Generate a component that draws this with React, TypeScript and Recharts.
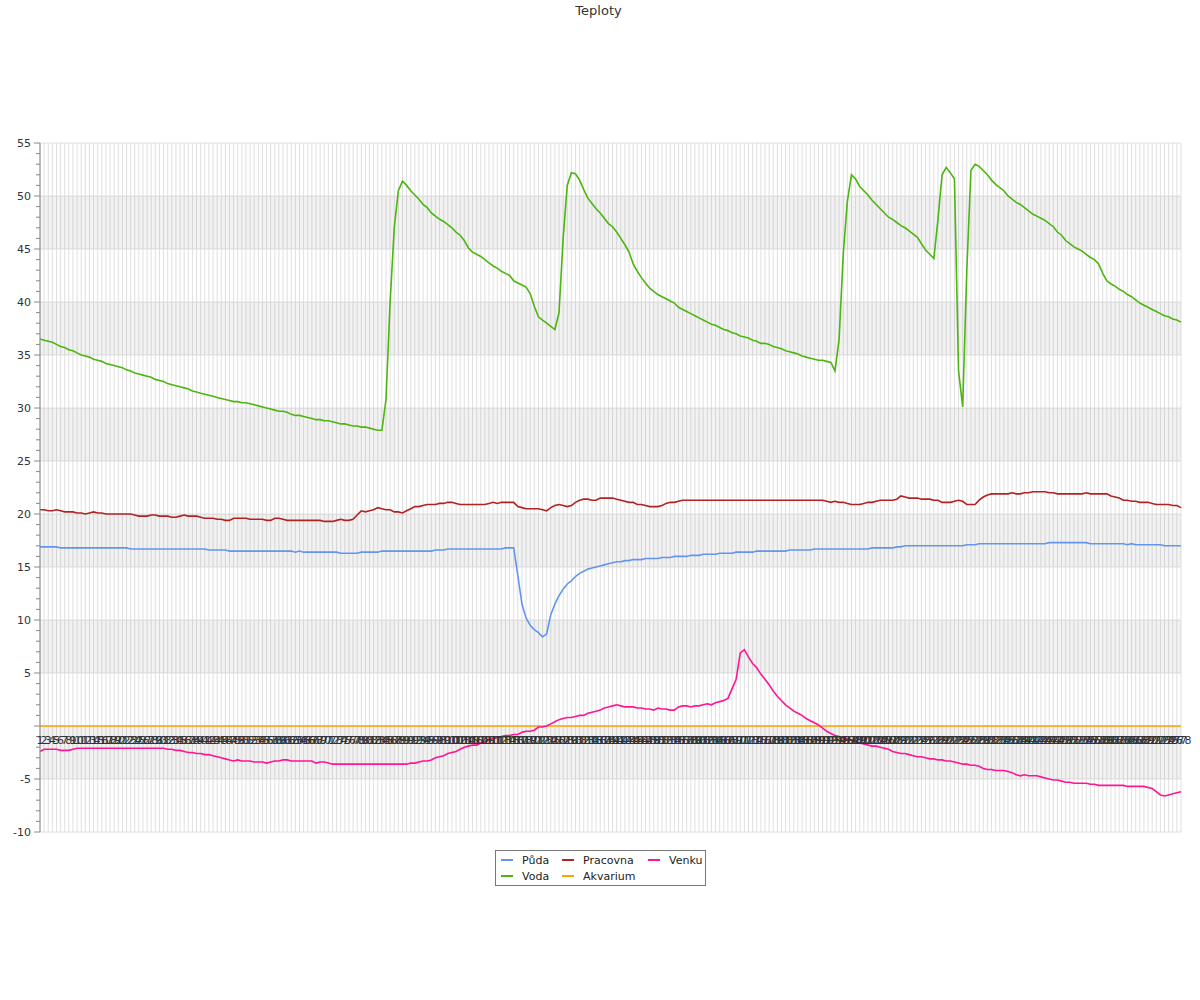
import React from "react";
import {
  LineChart,
  Line,
  XAxis,
  YAxis,
  CartesianGrid,
  ReferenceArea,
  LabelList,
} from "recharts";

// 278 readings, labelled 1..278
const categories = Array.from({ length: 278 }, (_, i) => String(i + 1));

const puda = [
  16.9, 16.9, 16.9, 16.9, 16.9, 16.8, 16.8, 16.8, 16.8, 16.8,
  16.8, 16.8, 16.8, 16.8, 16.8, 16.8, 16.8, 16.8, 16.8, 16.8,
  16.8, 16.8, 16.7, 16.7, 16.7, 16.7, 16.7, 16.7, 16.7, 16.7,
  16.7, 16.7, 16.7, 16.7, 16.7, 16.7, 16.7, 16.7, 16.7, 16.7,
  16.7, 16.6, 16.6, 16.6, 16.6, 16.6, 16.5, 16.5, 16.5, 16.5,
  16.5, 16.5, 16.5, 16.5, 16.5, 16.5, 16.5, 16.5, 16.5, 16.5,
  16.5, 16.5, 16.4, 16.5, 16.4, 16.4, 16.4, 16.4, 16.4, 16.4,
  16.4, 16.4, 16.4, 16.3, 16.3, 16.3, 16.3, 16.3, 16.4, 16.4,
  16.4, 16.4, 16.4, 16.5, 16.5, 16.5, 16.5, 16.5, 16.5, 16.5,
  16.5, 16.5, 16.5, 16.5, 16.5, 16.5, 16.6, 16.6, 16.6, 16.7,
  16.7, 16.7, 16.7, 16.7, 16.7, 16.7, 16.7, 16.7, 16.7, 16.7,
  16.7, 16.7, 16.7, 16.8, 16.8, 16.8, 14.2, 11.5, 10.2, 9.5,
  9.1, 8.8, 8.4, 8.7, 10.5, 11.5, 12.3, 12.9, 13.4, 13.7,
  14.1, 14.4, 14.6, 14.8, 14.9, 15.0, 15.1, 15.2, 15.3, 15.4,
  15.5, 15.5, 15.6, 15.6, 15.7, 15.7, 15.7, 15.8, 15.8, 15.8,
  15.8, 15.9, 15.9, 15.9, 16.0, 16.0, 16.0, 16.0, 16.1, 16.1,
  16.1, 16.2, 16.2, 16.2, 16.2, 16.3, 16.3, 16.3, 16.3, 16.4,
  16.4, 16.4, 16.4, 16.4, 16.5, 16.5, 16.5, 16.5, 16.5, 16.5,
  16.5, 16.5, 16.6, 16.6, 16.6, 16.6, 16.6, 16.6, 16.7, 16.7,
  16.7, 16.7, 16.7, 16.7, 16.7, 16.7, 16.7, 16.7, 16.7, 16.7,
  16.7, 16.7, 16.8, 16.8, 16.8, 16.8, 16.8, 16.8, 16.9, 16.9,
  17.0, 17.0, 17.0, 17.0, 17.0, 17.0, 17.0, 17.0, 17.0, 17.0,
  17.0, 17.0, 17.0, 17.0, 17.0, 17.1, 17.1, 17.1, 17.2, 17.2,
  17.2, 17.2, 17.2, 17.2, 17.2, 17.2, 17.2, 17.2, 17.2, 17.2,
  17.2, 17.2, 17.2, 17.2, 17.2, 17.3, 17.3, 17.3, 17.3, 17.3,
  17.3, 17.3, 17.3, 17.3, 17.3, 17.2, 17.2, 17.2, 17.2, 17.2,
  17.2, 17.2, 17.2, 17.2, 17.1, 17.2, 17.1, 17.1, 17.1, 17.1,
  17.1, 17.1, 17.1, 17.0, 17.0, 17.0, 17.0, 17.0,
];

const voda = [
  36.5, 36.4, 36.3, 36.2, 36.0, 35.8, 35.7, 35.5, 35.4, 35.2,
  35.0, 34.9, 34.8, 34.6, 34.5, 34.4, 34.2, 34.1, 34.0, 33.9,
  33.8, 33.6, 33.5, 33.3, 33.2, 33.1, 33.0, 32.9, 32.7, 32.6,
  32.5, 32.3, 32.2, 32.1, 32.0, 31.9, 31.8, 31.6, 31.5, 31.4,
  31.3, 31.2, 31.1, 31.0, 30.9, 30.8, 30.7, 30.6, 30.6, 30.5,
  30.5, 30.4, 30.3, 30.2, 30.1, 30.0, 29.9, 29.8, 29.7, 29.7,
  29.6, 29.4, 29.3, 29.3, 29.2, 29.1, 29.0, 28.9, 28.9, 28.8,
  28.8, 28.7, 28.6, 28.5, 28.5, 28.4, 28.3, 28.3, 28.2, 28.2,
  28.1, 28.0, 27.9, 27.9, 30.8, 40.0, 47.0, 50.5, 51.4, 51.0,
  50.5, 50.1, 49.7, 49.2, 48.9, 48.4, 48.1, 47.8, 47.6, 47.3,
  47.0, 46.6, 46.3, 45.8, 45.1, 44.7, 44.5, 44.3, 44.0, 43.7,
  43.4, 43.2, 42.9, 42.7, 42.5, 42.0, 41.8, 41.6, 41.4, 40.8,
  39.6, 38.6, 38.3, 38.0, 37.7, 37.4, 39.0, 46.0, 51.0, 52.2,
  52.1, 51.5, 50.6, 49.8, 49.3, 48.8, 48.4, 47.9, 47.4, 47.1,
  46.6, 46.0, 45.4, 44.7, 43.6, 42.9, 42.3, 41.8, 41.3, 41.0,
  40.7, 40.5, 40.3, 40.1, 39.9, 39.5, 39.3, 39.1, 38.9, 38.7,
  38.5, 38.3, 38.1, 37.9, 37.8, 37.6, 37.4, 37.3, 37.1, 37.0,
  36.8, 36.7, 36.6, 36.4, 36.3, 36.1, 36.1, 36.0, 35.8, 35.7,
  35.6, 35.4, 35.3, 35.2, 35.1, 34.9, 34.8, 34.7, 34.6, 34.5,
  34.5, 34.4, 34.3, 33.5, 36.5, 44.5, 49.5, 52.0, 51.6, 50.9,
  50.5, 50.1, 49.6, 49.2, 48.8, 48.4, 48.0, 47.8, 47.5, 47.2,
  47.0, 46.7, 46.4, 46.1, 45.5, 44.9, 44.5, 44.1, 47.8, 52.0,
  52.7, 52.2, 51.6, 33.5, 30.1, 43.0, 52.4, 53.0, 52.8, 52.4,
  52.0, 51.5, 51.1, 50.8, 50.5, 50.0, 49.7, 49.4, 49.2, 48.9,
  48.6, 48.3, 48.1, 47.9, 47.7, 47.4, 47.1, 46.6, 46.3, 45.8,
  45.5, 45.2, 45.0, 44.8, 44.5, 44.2, 44.0, 43.6, 42.7, 42.0,
  41.7, 41.5, 41.2, 41.0, 40.7, 40.5, 40.2, 39.9, 39.7, 39.5,
  39.3, 39.1, 38.9, 38.7, 38.6, 38.4, 38.3, 38.1,
];

const pracovna = [
  20.4, 20.4, 20.3, 20.3, 20.4, 20.3, 20.2, 20.2, 20.2, 20.1,
  20.1, 20.0, 20.1, 20.2, 20.1, 20.1, 20.0, 20.0, 20.0, 20.0,
  20.0, 20.0, 20.0, 19.9, 19.8, 19.8, 19.8, 19.9, 19.9, 19.8,
  19.8, 19.8, 19.7, 19.7, 19.8, 19.9, 19.8, 19.8, 19.8, 19.7,
  19.6, 19.6, 19.6, 19.5, 19.5, 19.4, 19.4, 19.6, 19.6, 19.6,
  19.6, 19.5, 19.5, 19.5, 19.5, 19.4, 19.4, 19.6, 19.6, 19.5,
  19.4, 19.4, 19.4, 19.4, 19.4, 19.4, 19.4, 19.4, 19.4, 19.3,
  19.3, 19.3, 19.4, 19.5, 19.4, 19.4, 19.5, 19.9, 20.3, 20.2,
  20.3, 20.4, 20.6, 20.5, 20.4, 20.4, 20.2, 20.2, 20.1, 20.3,
  20.5, 20.7, 20.7, 20.8, 20.9, 20.9, 20.9, 21.0, 21.0, 21.1,
  21.1, 21.0, 20.9, 20.9, 20.9, 20.9, 20.9, 20.9, 20.9, 21.0,
  21.1, 21.0, 21.1, 21.1, 21.1, 21.1, 20.7, 20.6, 20.5, 20.5,
  20.5, 20.5, 20.4, 20.3, 20.6, 20.8, 20.9, 20.8, 20.7, 20.8,
  21.1, 21.3, 21.4, 21.4, 21.3, 21.3, 21.5, 21.5, 21.5, 21.5,
  21.4, 21.3, 21.2, 21.1, 21.1, 20.9, 20.9, 20.8, 20.7, 20.7,
  20.7, 20.8, 21.0, 21.1, 21.1, 21.2, 21.3, 21.3, 21.3, 21.3,
  21.3, 21.3, 21.3, 21.3, 21.3, 21.3, 21.3, 21.3, 21.3, 21.3,
  21.3, 21.3, 21.3, 21.3, 21.3, 21.3, 21.3, 21.3, 21.3, 21.3,
  21.3, 21.3, 21.3, 21.3, 21.3, 21.3, 21.3, 21.3, 21.3, 21.3,
  21.3, 21.2, 21.1, 21.2, 21.1, 21.1, 21.0, 20.9, 20.9, 20.9,
  21.0, 21.1, 21.1, 21.2, 21.3, 21.3, 21.3, 21.3, 21.4, 21.7,
  21.6, 21.5, 21.5, 21.5, 21.4, 21.4, 21.4, 21.3, 21.3, 21.1,
  21.1, 21.1, 21.2, 21.3, 21.2, 20.9, 20.9, 20.9, 21.3, 21.6,
  21.8, 21.9, 21.9, 21.9, 21.9, 21.9, 22.0, 21.9, 21.9, 22.0,
  22.0, 22.1, 22.1, 22.1, 22.1, 22.0, 22.0, 21.9, 21.9, 21.9,
  21.9, 21.9, 21.9, 21.9, 22.0, 21.9, 21.9, 21.9, 21.9, 21.9,
  21.7, 21.6, 21.5, 21.3, 21.3, 21.2, 21.2, 21.1, 21.1, 21.1,
  21.0, 20.9, 20.9, 20.9, 20.9, 20.8, 20.8, 20.6,
];

const akvarium = [
  0, 0, 0, 0, 0, 0, 0, 0, 0, 0, 0, 0, 0, 0, 0, 0, 0, 0, 0, 0,
  0, 0, 0, 0, 0, 0, 0, 0, 0, 0, 0, 0, 0, 0, 0, 0, 0, 0, 0, 0,
  0, 0, 0, 0, 0, 0, 0, 0, 0, 0, 0, 0, 0, 0, 0, 0, 0, 0, 0, 0,
  0, 0, 0, 0, 0, 0, 0, 0, 0, 0, 0, 0, 0, 0, 0, 0, 0, 0, 0, 0,
  0, 0, 0, 0, 0, 0, 0, 0, 0, 0, 0, 0, 0, 0, 0, 0, 0, 0, 0, 0,
  0, 0, 0, 0, 0, 0, 0, 0, 0, 0, 0, 0, 0, 0, 0, 0, 0, 0, 0, 0,
  0, 0, 0, 0, 0, 0, 0, 0, 0, 0, 0, 0, 0, 0, 0, 0, 0, 0, 0, 0,
  0, 0, 0, 0, 0, 0, 0, 0, 0, 0, 0, 0, 0, 0, 0, 0, 0, 0, 0, 0,
  0, 0, 0, 0, 0, 0, 0, 0, 0, 0, 0, 0, 0, 0, 0, 0, 0, 0, 0, 0,
  0, 0, 0, 0, 0, 0, 0, 0, 0, 0, 0, 0, 0, 0, 0, 0, 0, 0, 0, 0,
  0, 0, 0, 0, 0, 0, 0, 0, 0, 0, 0, 0, 0, 0, 0, 0, 0, 0, 0, 0,
  0, 0, 0, 0, 0, 0, 0, 0, 0, 0, 0, 0, 0, 0, 0, 0, 0, 0, 0, 0,
  0, 0, 0, 0, 0, 0, 0, 0, 0, 0, 0, 0, 0, 0, 0, 0, 0, 0, 0, 0,
  0, 0, 0, 0, 0, 0, 0, 0, 0, 0, 0, 0, 0, 0, 0, 0, 0, 0,
];

const venku = [
  -2.4, -2.2, -2.2, -2.2, -2.2, -2.3, -2.3, -2.3, -2.2, -2.1,
  -2.1, -2.1, -2.1, -2.1, -2.1, -2.1, -2.1, -2.1, -2.1, -2.1,
  -2.1, -2.1, -2.1, -2.1, -2.1, -2.1, -2.1, -2.1, -2.1, -2.1,
  -2.1, -2.2, -2.2, -2.3, -2.3, -2.4, -2.5, -2.5, -2.6, -2.6,
  -2.7, -2.7, -2.8, -2.9, -3.0, -3.1, -3.2, -3.3, -3.2, -3.3,
  -3.3, -3.3, -3.4, -3.4, -3.4, -3.5, -3.4, -3.3, -3.3, -3.2,
  -3.2, -3.3, -3.3, -3.3, -3.3, -3.3, -3.3, -3.5, -3.4, -3.4,
  -3.5, -3.6, -3.6, -3.6, -3.6, -3.6, -3.6, -3.6, -3.6, -3.6,
  -3.6, -3.6, -3.6, -3.6, -3.6, -3.6, -3.6, -3.6, -3.6, -3.6,
  -3.5, -3.5, -3.4, -3.3, -3.3, -3.2, -3.0, -2.9, -2.8, -2.6,
  -2.5, -2.4, -2.2, -2.0, -1.9, -1.8, -1.8, -1.6, -1.5, -1.3,
  -1.2, -1.1, -1.0, -0.9, -0.9, -0.8, -0.8, -0.6, -0.5, -0.5,
  -0.4, -0.1, -0.1, 0.0, 0.2, 0.4, 0.6, 0.7, 0.8, 0.8,
  0.9, 1.0, 1.0, 1.2, 1.3, 1.4, 1.5, 1.7, 1.8, 1.9,
  2.0, 1.9, 1.8, 1.8, 1.8, 1.7, 1.7, 1.6, 1.6, 1.5,
  1.7, 1.6, 1.6, 1.5, 1.5, 1.8, 1.9, 1.9, 1.8, 1.9,
  1.9, 2.0, 2.1, 2.0, 2.2, 2.3, 2.4, 2.6, 3.5, 4.4,
  6.9, 7.2, 6.5, 5.9, 5.5, 4.9, 4.4, 3.9, 3.3, 2.8,
  2.4, 2.0, 1.7, 1.4, 1.2, 1.0, 0.7, 0.5, 0.3, 0.1,
  -0.2, -0.5, -0.7, -0.9, -1.0, -1.1, -1.2, -1.3, -1.5, -1.6,
  -1.7, -1.8, -1.9, -1.9, -2.0, -2.1, -2.2, -2.4, -2.5, -2.6,
  -2.6, -2.7, -2.8, -2.9, -2.9, -3.0, -3.1, -3.1, -3.2, -3.2,
  -3.3, -3.3, -3.4, -3.5, -3.6, -3.6, -3.7, -3.7, -3.8, -4.0,
  -4.1, -4.1, -4.2, -4.2, -4.2, -4.3, -4.4, -4.6, -4.7, -4.6,
  -4.7, -4.7, -4.7, -4.8, -4.9, -5.0, -5.1, -5.1, -5.2, -5.3,
  -5.3, -5.4, -5.4, -5.4, -5.4, -5.5, -5.5, -5.6, -5.6, -5.6,
  -5.6, -5.6, -5.6, -5.6, -5.7, -5.7, -5.7, -5.7, -5.7, -5.8,
  -5.9, -6.2, -6.5, -6.6, -6.5, -6.4, -6.3, -6.2,
];

// y axis: every degree gets a small tick, every fifth a label
const yTicks = [
  -10, -9, -8, -7, -6, -5, -4, -3, -2, -1, 0, 1, 2, 3, 4, 5, 6, 7, 8, 9, 10,
  11, 12, 13, 14, 15, 16, 17, 18, 19, 20, 21, 22, 23, 24, 25, 26, 27, 28, 29,
  30, 31, 32, 33, 34, 35, 36, 37, 38, 39, 40, 41, 42, 43, 44, 45, 46, 47, 48,
  49, 50, 51, 52, 53, 54, 55,
];
const gridValues = [-10, -5, 0, 5, 10, 15, 20, 25, 30, 35, 40, 45, 50, 55];
const bands = [
  [-5, 0],
  [5, 10],
  [15, 20],
  [25, 30],
  [35, 40],
  [45, 50],
];

const series = [
  { key: "puda", name: "Půda", color: "#6495ed" },
  { key: "voda", name: "Voda", color: "#4cb50f" },
  { key: "pracovna", name: "Pracovna", color: "#b22222" },
  { key: "akvarium", name: "Akvarium", color: "#ffa500" },
  { key: "venku", name: "Venku", color: "#ff1493" },
];

const data = categories.map((name, i) => ({
  name,
  puda: puda[i],
  voda: voda[i],
  pracovna: pracovna[i],
  akvarium: akvarium[i],
  venku: venku[i],
}));

const FONT = "'DejaVu Sans', sans-serif";

const YTick = (props: any) => {
  const { x, y, payload } = props;
  const v = payload.value;
  const major = v % 5 === 0;
  return (
    <g>
      <line x1={major ? x - 6 : x - 4} x2={x} y1={y} y2={y} stroke="#888" />
      {major && v !== 0 && (
        <text x={x - 9} y={y} dy={4} textAnchor="end" fontSize={11} fill="#333" fontFamily={FONT}>
          {v}
        </text>
      )}
    </g>
  );
};

const XLabel = (props: any) => {
  const { x, y, value } = props;
  return (
    <text x={x} y={y + 18} textAnchor="middle" fontSize={11} fill="#333" fontFamily={FONT}>
      {value}
    </text>
  );
};

const legendCols = [5, 66, 152];

export default function App() {
  return (
    <div style={{ position: "absolute", left: 0, top: 0, width: 1200, height: 1000, background: "#fff", fontFamily: FONT }}>
      <div style={{ position: "absolute", top: 3, left: 0, width: 1197, textAlign: "center", fontSize: 13, color: "#333" }}>
        Teploty
      </div>
      <LineChart width={1200} height={1000} data={data} margin={{ top: 143, right: 19, bottom: 168, left: 0 }}>
        {bands.map(([a, b]) => (
          <ReferenceArea key={a} y1={a} y2={b} fill="#000" fillOpacity={0.05} stroke="none" ifOverflow="hidden" />
        ))}
        <CartesianGrid stroke="#e0e0e0" horizontalValues={gridValues} verticalValues={categories} />
        <XAxis dataKey="name" hide interval={0} />
        <YAxis
          width={40}
          domain={[-10, 55]}
          ticks={yTicks}
          interval={0}
          type="number"
          allowDataOverflow
          tickLine={false}
          tickSize={0}
          tickMargin={0}
          axisLine={{ stroke: "#888" }}
          tick={<YTick />}
        />
        {series.map((s) => (
          <Line
            key={s.key}
            dataKey={s.key}
            name={s.name}
            stroke={s.color}
            strokeWidth={1.6}
            dot={false}
            type="linear"
            isAnimationActive={false}
          >
            {s.key === "akvarium" && <LabelList dataKey="name" content={<XLabel />} />}
          </Line>
        ))}
      </LineChart>
      <div
        style={{
          position: "absolute",
          left: 495,
          top: 850,
          width: 209,
          height: 34,
          border: "1px solid #777",
          background: "#fff",
          fontSize: 11,
          color: "#222",
        }}
      >
        {series.map((s, i) => (
          <div
            key={s.key}
            style={{
              position: "absolute",
              left: legendCols[Math.floor(i / 2)],
              top: (i % 2) * 16 + 2,
              height: 14,
              display: "flex",
              alignItems: "center",
              whiteSpace: "nowrap",
            }}
          >
            <span style={{ display: "inline-block", width: 12, height: 2, background: s.color, marginRight: 9 }} />
            {s.name}
          </div>
        ))}
      </div>
    </div>
  );
}
